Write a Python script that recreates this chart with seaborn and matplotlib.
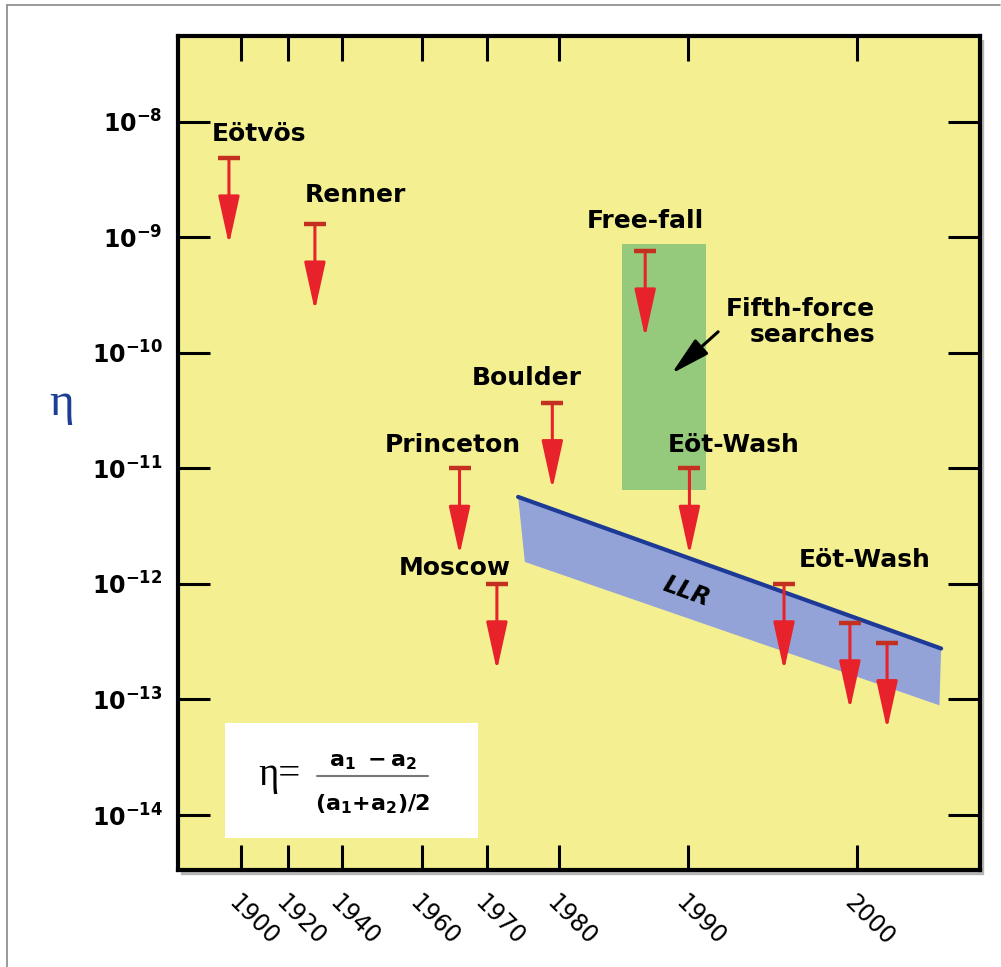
import numpy as np
import pandas as pd
import matplotlib
matplotlib.use("Agg")
import matplotlib.pyplot as plt
import seaborn as sns
from matplotlib.patches import Rectangle
from matplotlib.lines import Line2D
from matplotlib.transforms import ScaledTranslation
from matplotlib.ticker import NullLocator

sns.set_theme(style="ticks")
plt.rcParams["font.family"] = ["DejaVu Sans"]
plt.rcParams["mathtext.fontset"] = "dejavusans"
plt.rcParams["text.color"] = "black"
plt.rcParams["axes.labelcolor"] = "black"
plt.rcParams["xtick.color"] = "black"
plt.rcParams["ytick.color"] = "black"

# upper limits on eta (arrows pointing down)
experiments = ["Eötvös", "Renner", "Free-fall", "Boulder", "Princeton",
               "Moscow", "Eöt-Wash", "Eöt-Wash", "Eöt-Wash", "Eöt-Wash"]
exp_year = [1894.9, 1930.0, 1986.7, 1979.1, 1965.8, 1971.4, 1990.1, 1995.7, 1999.6, 2001.8]
exp_limit = [4.85e-9, 1.30e-9, 7.6e-10, 3.7e-11, 1.0e-11, 1.0e-12, 1.0e-11, 1.0e-12, 4.6e-13, 3.1e-13]

# text labels (centre year, centre value)
label_text = ["Eötvös", "Renner", "Free-fall", "Boulder", "Princeton", "Moscow", "Eöt-Wash", "Eöt-Wash"]
label_year = [1907.7, 1943.3, 1986.7, 1975.6, 1964.8, 1965.1, 1992.7, 2000.5]
label_eta = [7.9e-9, 2.32e-9, 1.38e-9, 6.0e-11, 1.59e-11, 1.37e-12, 1.59e-11, 1.6e-12]

# fifth-force search region
fifth_years = [1984.9, 1991.1]
fifth_eta = [6.5e-12, 8.7e-10]
fifth_arrow_tail = (1991.8, 1.52e-10)
fifth_arrow_tip = (1988.74, 6.6e-11)

# lunar laser ranging band
llr_years_upper = [1974.35, 2005.0]
llr_upper = [5.66e-12, 2.76e-13]
llr_years_lower = [1975.28, 2004.9]
llr_lower = [1.55e-12, 8.9e-14]

# odd, non-uniform time axis
tick_years = [1900, 1920, 1940, 1960, 1970, 1980, 1990, 2000]
tick_labels = ["1900", "1920", "1940", "1960", "1970", "1980", "1990", "2000"]
eta_ticks = [1e-8, 1e-9, 1e-10, 1e-11, 1e-12, 1e-13, 1e-14]
eta_tick_labels = [r"$\mathbf{10^{-%d}}$" % k for k in range(8, 15)]

knot_years = [1860, 1900, 1920, 1940, 1960, 1970, 1980, 1990, 2000, 2020]
knot_pos = [147, 241, 288, 342, 422, 487, 559, 688, 857, 1195]


def fwd(x):
    return np.interp(x, knot_years, knot_pos)


def inv(p):
    return np.interp(p, knot_pos, knot_years)


yellow = "#f4f092"
red = "#e8222a"
cap_red = "#c4301f"

fig = plt.figure(figsize=(10.01, 9.67), dpi=100)
ax = fig.add_axes([0.1778, 0.1003, 0.8012, 0.8625])
ax.set_facecolor(yellow)

# drop shadow + outer border
fig.add_artist(Rectangle((181 / 1001, (967 - 874) / 967), 802 / 1001, 834 / 967,
                         transform=fig.transFigure, color="#b5b5b5", zorder=-1))
fig.add_artist(Line2D([7 / 1001, 7 / 1001], [0, 1 - 5 / 967], transform=fig.transFigure,
                      color="#888888", lw=1.2))
fig.add_artist(Line2D([7 / 1001, 1000 / 1001], [1 - 5 / 967, 1 - 5 / 967],
                      transform=fig.transFigure, color="#888888", lw=1.2))

ax.set_xscale("function", functions=(fwd, inv))
ax.set_yscale("log")
ax.set_xlim(1873.2, 2007.3)
ax.set_ylim(10 ** -14.476, 10 ** -7.258)

# green box
ax.fill_between(fifth_years, fifth_eta[0], fifth_eta[1], color="#95c97b", lw=0, zorder=1)

# LLR band
ax.fill(np.r_[llr_years_upper, llr_years_lower[::-1]], np.r_[llr_upper, llr_lower[::-1]],
        color="#93a3d8", lw=0, zorder=2)
sns.lineplot(x=llr_years_upper, y=llr_upper, color="#1c3a96", lw=3, ax=ax, zorder=3)
ax.text(1989.9, 8.5e-13, "LLR", rotation=-20, fontsize=17, fontweight="bold",
        fontstyle="italic", ha="center", va="center", zorder=4)

# arrows
df = pd.DataFrame({"experiment": experiments, "year": exp_year, "limit": exp_limit})
for yr, lim in zip(df.year, df.limit):
    ax.annotate("", xy=(yr, lim / 10 ** 0.75), xytext=(yr, lim),
                arrowprops=dict(arrowstyle="-|>,head_length=2.5,head_width=0.55",
                                color=red, lw=2.2, shrinkA=0, shrinkB=0), zorder=5)
sns.scatterplot(data=df, x="year", y="limit", marker="_", s=260, linewidth=3.2,
                color=cap_red, ax=ax, zorder=6)

for txt, yr, val in zip(label_text, label_year, label_eta):
    ax.text(yr, val, txt, fontsize=18, fontweight="bold", ha="center", va="center", zorder=6)

ax.text(2001.1, 1.85e-10, "Fifth-force\nsearches", fontsize=18, fontweight="bold",
        ha="right", va="center", multialignment="right", linespacing=1.15, zorder=6)
ax.annotate("", xy=fifth_arrow_tip, xytext=fifth_arrow_tail, zorder=6,
            arrowprops=dict(arrowstyle="-|>,head_length=2.0,head_width=0.5", color="black",
                            lw=2.2, shrinkA=0, shrinkB=0))

# formula box
ax.add_patch(Rectangle((0.0586, 0.0384), 0.3156, 0.1379, transform=ax.transAxes,
                       facecolor="white", edgecolor="none", zorder=7))
ax.text(0.1, 0.1020, "η=", transform=ax.transAxes, fontsize=28, family="Liberation Serif",
        ha="left", va="baseline", zorder=8)
ax.text(0.2431, 0.1295, r"$\mathbf{a_1\ -a_2}$", transform=ax.transAxes, fontsize=16,
        ha="center", va="center", zorder=8)
ax.text(0.2431, 0.0786, r"$\mathbf{(a_1{+}a_2)/2}$", transform=ax.transAxes, fontsize=16,
        ha="center", va="center", zorder=8)
ax.add_artist(Line2D([0.1733, 0.3117], [0.1127, 0.1127], transform=ax.transAxes,
                     color="#777777", lw=1.5, zorder=8))

# axes styling
for sp in ax.spines.values():
    sp.set_linewidth(3)
    sp.set_color("black")
ax.set_xticks(tick_years)
ax.set_xticklabels(tick_labels, rotation=-45, ha="center", va="top", fontsize=17)
ax.set_yticks(eta_ticks)
ax.set_yticklabels(eta_tick_labels, fontsize=17)
ax.yaxis.set_minor_locator(NullLocator())
ax.xaxis.set_minor_locator(NullLocator())
ax.tick_params(axis="both", which="major", direction="in", top=True, right=True,
               width=2.2, color="black")
ax.tick_params(axis="x", length=18, pad=15)
ax.tick_params(axis="y", length=23, pad=11)
for lab in ax.get_xticklabels():
    lab.set_transform(lab.get_transform() + ScaledTranslation(0.13, 0, fig.dpi_scale_trans))

ax.set_xlabel("")
ax.set_ylabel("η", rotation=0, fontsize=34, family="Liberation Serif", color="#1c3f94")
ax.yaxis.set_label_coords(-0.145, 0.534)
ax.grid(False)

fig.savefig("out.png", dpi=100)
